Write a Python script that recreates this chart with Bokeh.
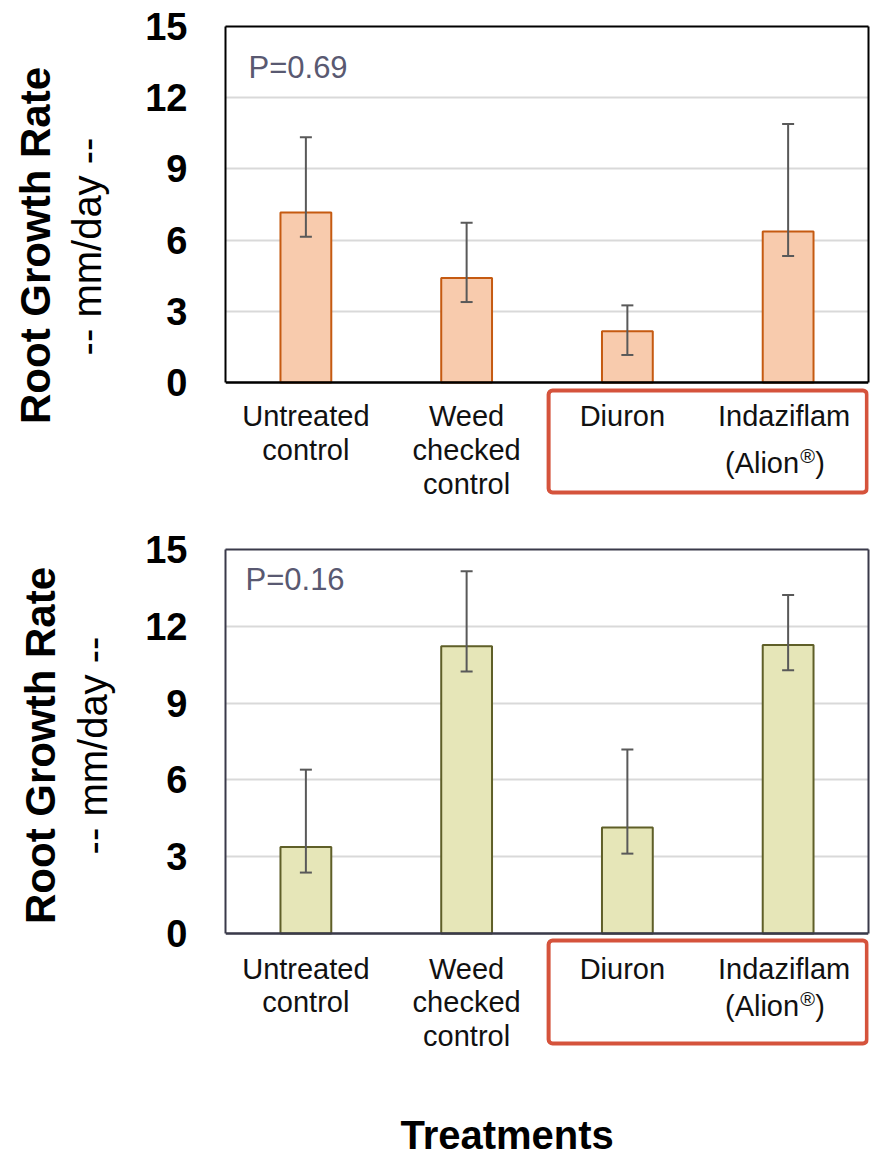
import math
from bokeh.plotting import figure
from bokeh.layouts import column, row
from bokeh.models import (ColumnDataSource, FactorRange, Range1d, FixedTicker, LinearAxis,
                          Whisker, TeeHead, Label, BoxAnnotation, Span)
from bokeh.core.properties import value
from bokeh.embed import file_html
from bokeh.resources import INLINE

# ---------------- data ----------------
categories = ["Untreated control", "Weed checked control", "Diuron", "Indaziflam (Alion®)"]
label_lines = [["Untreated", "control"], ["Weed", "checked", "control"], ["Diuron"], ["Indaziflam"]]
alion_parts = ["(Alion", "®", ")"]
y_ticks = [0, 3, 6, 9, 12, 15]

top_mean = [7.16, 4.40, 2.16, 6.36]
top_lower = [6.14, 3.39, 1.16, 5.33]
top_upper = [10.33, 6.73, 3.25, 10.89]
top_p = "P=0.69"

bot_mean = [3.38, 11.22, 4.14, 11.27]
bot_lower = [2.38, 10.23, 3.12, 10.28]
bot_upper = [6.40, 14.15, 7.19, 13.22]
bot_p = "P=0.16"

y_title = "Root Growth Rate"
y_unit = "-- mm/day --"
x_title = "Treatments"

FONT = "Liberation Sans"
LEFT_W = 118
TOTAL_W = 872
TOTAL_H = 1156
TXT = "#111111"


def edge_axis(frame_col, bounds=None):
    kw = dict(ticker=FixedTicker(ticks=[]), axis_line_color=frame_col, axis_line_width=2,
              major_tick_line_color=None, minor_tick_line_color=None)
    if bounds is not None:
        kw["bounds"] = bounds
    return LinearAxis(**kw)


def panel(mean, lower, upper, ptext, fill, edge, frame_col, fig_top, fig_bottom,
          frame_left, frame_right, frame_top, zero_y, p_dx, p_dy, lab, box, title=None):
    """All pixel arguments are page positions used for layout only."""
    height = fig_bottom - fig_top
    ppu = (zero_y - frame_top) / 15.0
    ymin = -(fig_bottom - zero_y) / ppu

    def yd(page_y):
        return (zero_y - page_y) / ppu

    src = ColumnDataSource(dict(cat=categories, mean=mean, lo=lower, hi=upper))
    p = figure(x_range=FactorRange(*categories), y_range=Range1d(ymin, 15),
               width=TOTAL_W - LEFT_W, height=height, output_backend="svg",
               toolbar_location=None, x_axis_location=None,
               min_border_left=frame_left - LEFT_W, min_border_right=TOTAL_W - frame_right,
               min_border_top=frame_top - fig_top, min_border_bottom=0)
    p.outline_line_color = None
    p.xgrid.visible = False
    p.ygrid.grid_line_color = "#D9D9D9"
    p.ygrid.grid_line_width = 2

    p.vbar(x="cat", top="mean", width=0.316, source=src, fill_color=fill,
           line_color=edge, line_width=2)
    p.add_layout(Whisker(base="cat", upper="hi", lower="lo", source=src, line_color="#595959",
                         line_width=2, level="overlay",
                         upper_head=TeeHead(size=12, line_color="#595959", line_width=2),
                         lower_head=TeeHead(size=12, line_color="#595959", line_width=2)))

    # y axis (left edge of the plot box)
    ax = p.yaxis[0]
    ax.ticker = FixedTicker(ticks=y_ticks)
    ax.bounds = (0, 15)
    ax.axis_line_color = frame_col
    ax.axis_line_width = 2
    ax.major_tick_line_color = None
    ax.major_tick_out = 0
    ax.major_tick_in = 0
    ax.minor_tick_line_color = None
    ax.axis_label_standoff = 0
    ax.major_label_text_font = FONT
    ax.major_label_text_font_style = "bold"
    ax.major_label_text_font_size = "38px"
    ax.major_label_text_color = "#000000"
    ax.major_label_standoff = 38
    # right and top edges of the plot box
    p.add_layout(edge_axis(frame_col, bounds=(0, 15)), "right")
    p.add_layout(edge_axis(frame_col), "above")
    # bottom edge (value axis baseline)
    p.add_layout(Span(location=0, dimension="width", line_color=frame_col, line_width=2.5,
                      level="overlay"))

    # P value
    p.add_layout(Label(x=0, y=15 - p_dy / ppu, x_offset=p_dx, text=ptext, text_font=FONT,
                       text_font_size="31px", text_color="#595971", text_baseline="middle"))

    # category labels (centres of cap height, page y)
    first, step, alion_y, reg_dy = lab
    xs, ys, ts, xo = [], [], [], []
    for i, lines in enumerate(label_lines):
        for j, tx in enumerate(lines):
            xs.append(categories[i]); ys.append(yd(first + step * j)); ts.append(tx)
            xo.append([0, 0, -5, -4][i])
    p.text(x=xs, y=ys, text=ts, x_offset=xo, text_font=value(FONT), text_font_size=value("29px"),
           text_align="center", text_baseline="middle", text_color=TXT)
    c = categories[3]
    p.text(x=[c], y=[yd(alion_y)], text=[alion_parts[0]], x_offset=[11], text_font=value(FONT),
           text_font_size=value("29px"), text_align="right", text_baseline="middle",
           text_color=TXT)
    p.text(x=[c], y=[yd(alion_y - reg_dy)], text=[alion_parts[1]], x_offset=[12],
           text_font=value(FONT), text_font_size=value("20px"), text_align="left",
           text_baseline="middle", text_color=TXT)
    p.text(x=[c], y=[yd(alion_y)], text=[alion_parts[2]], x_offset=[27], text_font=value(FONT),
           text_font_size=value("29px"), text_align="left", text_baseline="middle",
           text_color=TXT)

    # red box around the two herbicides
    p.add_layout(BoxAnnotation(left=2.01, right=3.99, top=yd(box[0]), bottom=yd(box[1]),
                               fill_alpha=0, line_color="#D5533C", line_alpha=1.0,
                               line_width=4, border_radius=4, level="overlay"))
    if title is not None:
        p.text(x=[title[0]], y=[yd(title[1])], text=[x_title], text_font=value(FONT),
               text_font_size=value("40px"), text_font_style="bold", text_align="center",
               text_baseline="middle", text_color="#000000")
    return p


# left strip with the y-axis titles
lf = figure(x_range=Range1d(0, LEFT_W), y_range=Range1d(-TOTAL_H, 0), width=LEFT_W,
            height=TOTAL_H, output_backend="svg", toolbar_location=None,
            x_axis_location=None, y_axis_location=None,
            min_border_left=0, min_border_right=0, min_border_top=0, min_border_bottom=0)
lf.outline_line_color = None
lf.grid.visible = False
lf.text(x=[35, 40], y=[-245, -745], text=[y_title, y_title], angle=math.pi / 2,
        text_font=value(FONT), text_font_size=value("42px"), text_font_style="bold",
        text_align="center", text_baseline="middle", text_color="#000000")
lf.text(x=[86, 92], y=[-246, -745], text=[y_unit, y_unit], angle=math.pi / 2,
        text_font=value(FONT), text_font_size=value("40px"),
        text_align="center", text_baseline="middle", text_color="#000000")

p1 = panel(top_mean, top_lower, top_upper, top_p, "#F8CBAD", "#C55A11", "#000000",
           0, 519, 222, 868, 26, 382, 23, 40.5,
           lab=(415, 34, 462, 7), box=(390, 492))
p2 = panel(bot_mean, bot_lower, bot_upper, bot_p, "#E6E6B8", "#5F5F28", "#3A3A4A",
           519, TOTAL_H, 225, 871, 549, 933, 20, 29.5,
           lab=(968, 33.5, 1005, 7), box=(940, 1043), title=(1.752, 1134))

layout = row(lf, column(p1, p2, spacing=0), spacing=0)
open("out.html", "w").write(file_html(layout, INLINE))
